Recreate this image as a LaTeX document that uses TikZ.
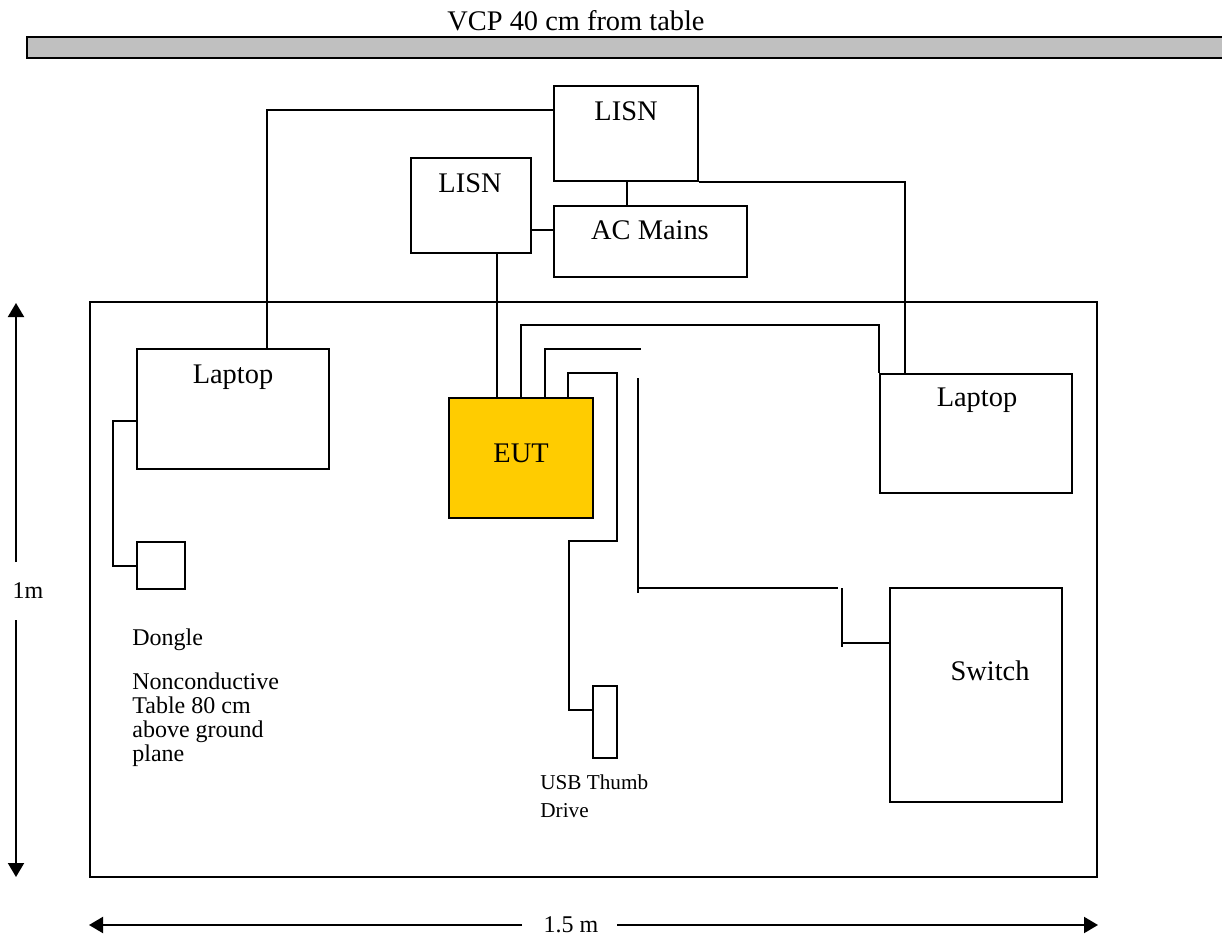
\documentclass[tikz,border=0pt]{standalone}
\usepackage{fontspec}
\setmainfont{Liberation Serif}
\usetikzlibrary{fit,arrows.meta}
\definecolor{vcpgray}{HTML}{C0C0C0}
\definecolor{eutyellow}{HTML}{FFCC00}
\begin{document}
\begin{tikzpicture}[x=0.5pt,y=-0.5pt,
 box/.style={draw=black,line width=1pt,inner sep=0pt},
 wire/.style={draw=black,line width=1pt},
 big/.style={font=\fontsize{14.2}{17}\selectfont,inner sep=0pt},
 small/.style={font=\fontsize{12}{12}\selectfont,inner sep=0pt},
 tiny/.style={font=\fontsize{10.6}{14}\selectfont,inner sep=0pt},
 dim/.style={line width=1pt,-{Triangle[length=7pt,width=8pt]}}]
\useasboundingbox (0,0) rectangle (1222,937);

% VCP
\node[box, line width=1.2pt, fill=vcpgray, fit={(27,37)(1232,58)}] (vcp) {};
\node[big, anchor=base] (vcpt) at (576,31) {VCP 40 cm from table};

% table
\node[box, fit={(90,302)(1097,877)}] (table) {};

% boxes
\node[box, fit={(554,86)(698,181)}] (lisn1) {};
\node[big, anchor=base] (lisn1t) at (626,120) {LISN};
\node[box, fit={(411,158)(531,253)}] (lisn2) {};
\node[big, anchor=base] (lisn2t) at (470,192) {LISN};
\node[box, fit={(554,206)(747,277)}] (ac) {};
\node[big, anchor=base] (act) at (650,239) {AC Mains};
\node[box, fill=eutyellow, fit={(449,398)(593,518)}] (eut) {};
\node[big, anchor=base] (eutt) at (521,462) {EUT};
\node[box, fit={(137,349)(329,469)}] (lapL) {};
\node[big, anchor=base] (lapLt) at (233,383) {Laptop};
\node[box, fit={(880,374)(1072,493)}] (lapR) {};
\node[big, anchor=base] (lapRt) at (977,406) {Laptop};
\node[box, fit={(890,588)(1062,802)}] (sw) {};
\node[big, anchor=base] (swt) at (990,680) {Switch};
\node[box, fit={(137,542)(185,589)}] (dongle) {};
\node[box, fit={(593,686)(617,758)}] (usb) {};

% labels
\node[small, anchor=base west] (dongt) at (132,645) {Dongle};
\node[small, anchor=north west, align=left] (tablet) at (132,672)
  {Nonconductive\\Table 80 cm\\above ground\\plane};
\node[tiny, anchor=north west, align=left] (usbt) at (540,774)
  {USB Thumb\\Drive};

% power cables
\draw[wire] (lisn1.west |- 0,110) -| (lapL.north -| 267,0);
\draw[wire] (lisn1.south east) -| (lapR.north -| 905,0);
\draw[wire] (lisn1.south -| 627,0) -- (ac.north -| 627,0);
\draw[wire] (lisn2.east |- 0,230) -- (ac.west |- 0,230);
\draw[wire] (lisn2.south -| 497,0) -- (eut.north -| 497,0);

% EUT cables
\draw[wire] (eut.north -| 521,0) |- (lapR.north west |- 0,325) -- (lapR.north west);
\coordinate (e1) at (641,349);
\draw[wire] (eut.north -| 545,0) |- (e1);
\draw[wire] (eut.north -| 568,0) |- (617,373) -- (617,541) -| (569,710) -- (usb.west |- 0,710);

% Ethernet (broken) to switch
\coordinate (e2) at (638,378); \coordinate (e3) at (638,593);
\coordinate (e4) at (638,588); \coordinate (e5) at (838,588);
\coordinate (e6) at (842,588); \coordinate (e7) at (842,647);
\coordinate (e8) at (842,643);
\draw[wire] (e2) -- (e3);
\draw[wire] (e4) -- (e5);
\draw[wire] (e6) -- (e7);
\draw[wire] (e8) -- (sw.west |- e8);

% dongle cable
\draw[wire] (lapL.west |- 0,421) -| (113,566) -- (dongle.west |- 0,566);

% dimensions
\node[small] (dimv) at (28,591) {1m};
\coordinate (va) at (16,562); \coordinate (vtop) at (16,303);
\coordinate (vb) at (16,620); \coordinate (vbot) at (16,877);
\draw[dim] (va) -- (vtop);
\draw[dim] (vb) -- (vbot);
\node[small] (dimh) at (571,925) {1.5 m};
\coordinate (ha) at (522,925); \coordinate (hleft) at (89,925);
\coordinate (hb) at (617,925); \coordinate (hright) at (1098,925);
\draw[dim] (ha) -- (hleft);
\draw[dim] (hb) -- (hright);
\end{tikzpicture}
\end{document}
